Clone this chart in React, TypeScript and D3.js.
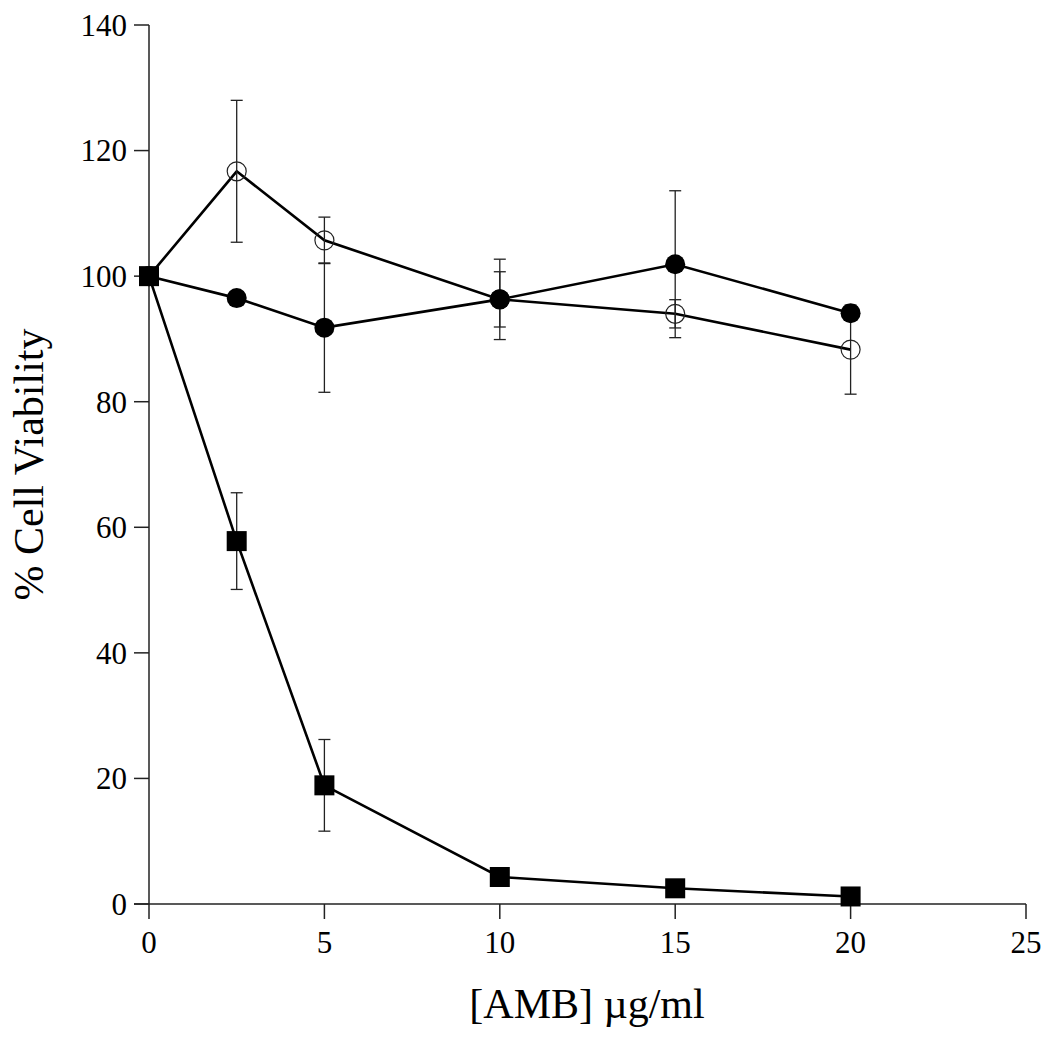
import React from "react";
import * as d3 from "d3";

const doses = [0, 2.5, 5, 10, 15, 20];
const ambAlone = [100, 57.8, 18.9, 4.3, 2.5, 1.2];
const ambAloneErr = [0, 7.7, 7.3, 0, 0, 0];
const openSeries = [100, 116.7, 105.7, 96.3, 94.0, 88.3];
const openErr = [0, 11.3, 3.7, 4.4, 2.25, 7.1];
const filledSeries = [100, 96.5, 91.8, 96.3, 101.9, 94.1];
const filledErr = [0, 0, 10.3, 6.4, 11.7, 0];
const xTicks = [0, 5, 10, 15, 20, 25];
const yTicks = [0, 20, 40, 60, 80, 100, 120, 140];

const W = 1050;
const H = 1037;
const FONT = "'Liberation Serif', 'Times New Roman', serif";

export default function App() {
  const x = d3.scaleLinear().domain([0, 25]).range([149, 1026]);
  const y = d3.scaleLinear().domain([0, 140]).range([904, 25]);
  const line = d3
    .line<[number, number]>()
    .x((d) => x(d[0]))
    .y((d) => y(d[1]));

  const pts = (vals: number[]) => doses.map((d, i) => [d, vals[i]] as [number, number]);

  const errBars = (vals: number[], errs: number[], key: string) =>
    doses.map((d, i) => {
      if (!errs[i]) return null;
      const cx = x(d);
      const y1 = y(vals[i] + errs[i]);
      const y2 = y(vals[i] - errs[i]);
      return (
        <g key={key + i} stroke="#222" strokeWidth={1.3}>
          <line x1={cx} x2={cx} y1={y1} y2={y2} />
          <line x1={cx - 6} x2={cx + 6} y1={y1} y2={y1} />
          <line x1={cx - 6} x2={cx + 6} y1={y2} y2={y2} />
        </g>
      );
    });

  return (
    <svg
      width={W}
      height={H}
      style={{ position: "absolute", left: 0, top: 0, background: "#fff" }}
    >
      {/* axes */}
      <g stroke="#222" strokeWidth={1.5} fill="none">
        <line x1={x(0)} x2={x(0)} y1={y(140)} y2={y(0)} />
        <line x1={x(0) - 15} x2={x(25)} y1={y(0)} y2={y(0)} />
        {yTicks.map((t) => (
          <line key={"yt" + t} x1={x(0) - 15} x2={x(0)} y1={y(t)} y2={y(t)} />
        ))}
        {xTicks.map((t) => (
          <line key={"xt" + t} x1={x(t)} x2={x(t)} y1={y(0)} y2={y(0) + 15} />
        ))}
      </g>
      <g fontFamily={FONT} fontSize={31} fill="#000">
        {yTicks.map((t) => (
          <text key={"yl" + t} x={127} y={y(t)} dy="0.35em" textAnchor="end">
            {t}
          </text>
        ))}
        {xTicks.map((t) => (
          <text key={"xl" + t} x={x(t)} y={953} textAnchor="middle">
            {t}
          </text>
        ))}
      </g>
      <text
        fontFamily={FONT}
        fontSize={42}
        x={587}
        y={1018}
        textAnchor="middle"
        fill="#000"
      >
        [AMB] µg/ml
      </text>
      <text
        fontFamily={FONT}
        fontSize={42}
        transform={`translate(43, ${(y(0) + y(140)) / 2}) rotate(-90)`}
        textAnchor="middle"
        fill="#000"
      >
        % Cell Viability
      </text>

      {/* lines */}
      <g fill="none" stroke="#000" strokeWidth={2.6}>
        <path d={line(pts(openSeries)) || ""} />
        <path d={line(pts(filledSeries)) || ""} />
        <path d={line(pts(ambAlone)) || ""} />
      </g>

      {/* error bars */}
      {errBars(openSeries, openErr, "o")}
      {errBars(filledSeries, filledErr, "f")}
      {errBars(ambAlone, ambAloneErr, "s")}

      {/* markers */}
      {doses.map((d, i) => (
        <circle
          key={"oc" + i}
          cx={x(d)}
          cy={y(openSeries[i])}
          r={9.5}
          fill="none"
          stroke="#222"
          strokeWidth={1.2}
        />
      ))}
      {doses.map((d, i) => (
        <circle key={"fc" + i} cx={x(d)} cy={y(filledSeries[i])} r={10} fill="#000" />
      ))}
      {doses.map((d, i) => (
        <rect
          key={"sq" + i}
          x={x(d) - 10}
          y={y(ambAlone[i]) - 10}
          width={20}
          height={20}
          fill="#000"
        />
      ))}
    </svg>
  );
}
